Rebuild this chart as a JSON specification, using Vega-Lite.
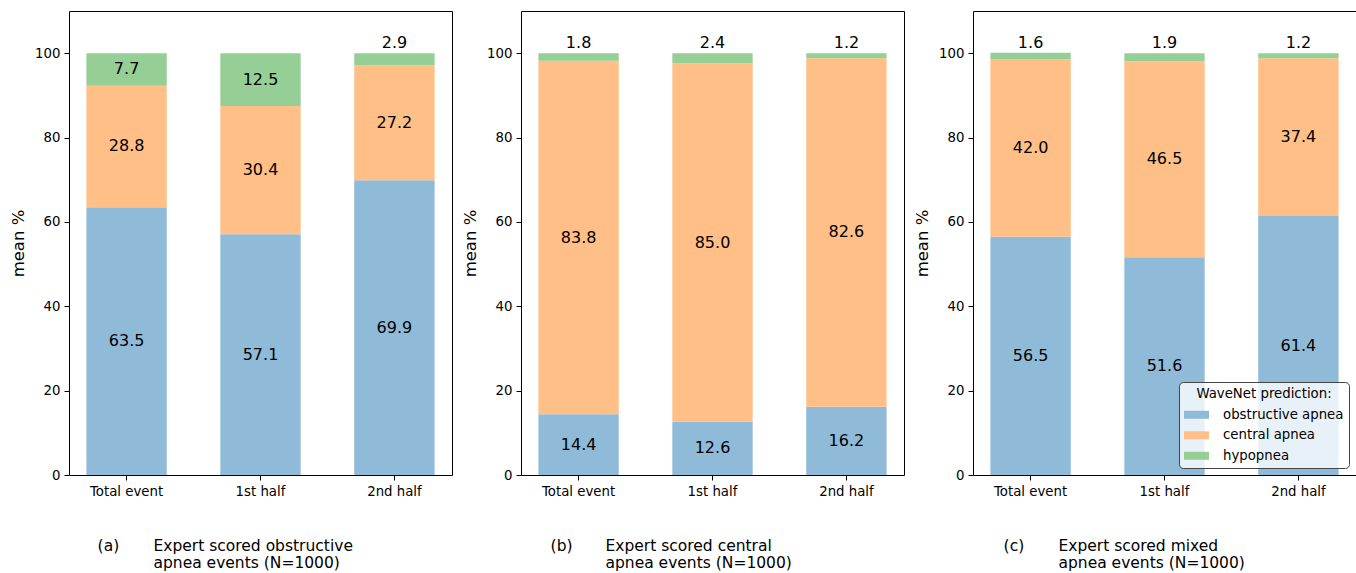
{
  "$schema": "https://vega.github.io/schema/vega-lite/v6.json",
  "background": "white",
  "padding": {"left": 10, "top": 10, "right": 0, "bottom": 0},
  "config": {
    "font": "DejaVu Sans",
    "view": {"stroke": "#000000", "strokeWidth": 1},
    "axis": {
      "domain": false,
      "grid": false,
      "ticks": true,
      "tickColor": "#000000",
      "tickSize": 5,
      "tickWidth": 1,
      "labelColor": "#000000",
      "labelFontSize": 13.3,
      "labelFont": "DejaVu Sans",
      "titleColor": "#000000",
      "titleFont": "DejaVu Sans",
      "titleFontWeight": "normal"
    },
    "title": {"font": "DejaVu Sans", "fontSize": 15.5, "fontWeight": "normal", "color": "#000000"}
  },
  "datasets": {
    "shares": [
      {"panel": "a", "half": "Total event", "prediction": "obstructive apnea", "pct": 63.5},
      {"panel": "a", "half": "Total event", "prediction": "central apnea", "pct": 28.8},
      {"panel": "a", "half": "Total event", "prediction": "hypopnea", "pct": 7.7},
      {"panel": "a", "half": "1st half", "prediction": "obstructive apnea", "pct": 57.1},
      {"panel": "a", "half": "1st half", "prediction": "central apnea", "pct": 30.4},
      {"panel": "a", "half": "1st half", "prediction": "hypopnea", "pct": 12.5},
      {"panel": "a", "half": "2nd half", "prediction": "obstructive apnea", "pct": 69.9},
      {"panel": "a", "half": "2nd half", "prediction": "central apnea", "pct": 27.2},
      {"panel": "a", "half": "2nd half", "prediction": "hypopnea", "pct": 2.9},
      {"panel": "b", "half": "Total event", "prediction": "obstructive apnea", "pct": 14.4},
      {"panel": "b", "half": "Total event", "prediction": "central apnea", "pct": 83.8},
      {"panel": "b", "half": "Total event", "prediction": "hypopnea", "pct": 1.8},
      {"panel": "b", "half": "1st half", "prediction": "obstructive apnea", "pct": 12.6},
      {"panel": "b", "half": "1st half", "prediction": "central apnea", "pct": 85.0},
      {"panel": "b", "half": "1st half", "prediction": "hypopnea", "pct": 2.4},
      {"panel": "b", "half": "2nd half", "prediction": "obstructive apnea", "pct": 16.2},
      {"panel": "b", "half": "2nd half", "prediction": "central apnea", "pct": 82.6},
      {"panel": "b", "half": "2nd half", "prediction": "hypopnea", "pct": 1.2},
      {"panel": "c", "half": "Total event", "prediction": "obstructive apnea", "pct": 56.5},
      {"panel": "c", "half": "Total event", "prediction": "central apnea", "pct": 42.0},
      {"panel": "c", "half": "Total event", "prediction": "hypopnea", "pct": 1.6},
      {"panel": "c", "half": "1st half", "prediction": "obstructive apnea", "pct": 51.6},
      {"panel": "c", "half": "1st half", "prediction": "central apnea", "pct": 46.5},
      {"panel": "c", "half": "1st half", "prediction": "hypopnea", "pct": 1.9},
      {"panel": "c", "half": "2nd half", "prediction": "obstructive apnea", "pct": 61.4},
      {"panel": "c", "half": "2nd half", "prediction": "central apnea", "pct": 37.4},
      {"panel": "c", "half": "2nd half", "prediction": "hypopnea", "pct": 1.2}
    ]
  },
  "bounds": "flush",
  "spacing": 69,
  "resolve": {"legend": {"color": "independent"}},
  "hconcat": [
    {
      "width": 383,
      "height": 464,
      "data": {"name": "shares"},
      "title": {"text": "(a)", "orient": "bottom", "anchor": "start", "dx": 87, "offset": -32},
      "transform": [
        {"filter": "datum.panel === 'a'"},
        {"calculate": "indexof(['obstructive apnea','central apnea','hypopnea'], datum.prediction)", "as": "rank"},
        {"stack": "pct", "groupby": ["half"], "sort": [{"field": "rank"}], "as": ["y0", "y1"]},
        {"calculate": "(datum.y0 + datum.y1) / 2", "as": "mid"}
      ],
      "encoding": {
        "x": {
          "field": "half", "type": "nominal",
          "sort": ["Total event", "1st half", "2nd half"],
          "scale": {"paddingInner": 0.4, "paddingOuter": 0.13},
          "axis": {
            "labelAngle": 0, "labelPadding": 4,
            "title": ["Expert scored obstructive", "apnea events (N=1000)"],
            "titleX": 84, "titleY": 75.5, "titleAlign": "left", "titleAnchor": "start",
            "titleBaseline": "alphabetic", "titleFontSize": 15.5, "titleLineHeight": 17
          }
        }
      },
      "layer": [
        {
          "mark": {"type": "bar"},
          "encoding": {
            "y": {"field": "y0", "type": "quantitative", "title": "mean %",
                  "scale": {"domain": [0, 110], "nice": false},
                  "axis": {"values": [0, 20, 40, 60, 80, 100], "titleFontSize": 16.5, "titlePadding": 8, "labelPadding": 4}},
            "y2": {"field": "y1"},
            "color": {"field": "prediction", "type": "nominal",
                      "scale": {"domain": ["obstructive apnea", "central apnea", "hypopnea"], "range": ["#8fbbd9", "#ffbf86", "#95cf95"]},
                      "legend": null}
          }
        },
        {
          "transform": [{"filter": "datum.pct >= 5"}],
          "mark": {"type": "text", "fontSize": 16, "baseline": "middle", "color": "#000000"},
          "encoding": {
            "y": {"field": "mid", "type": "quantitative", "title": "mean %"},
            "text": {"field": "pct", "type": "quantitative", "format": ".1f"}
          }
        },
        {
          "transform": [{"filter": "datum.pct < 5"}],
          "mark": {"type": "text", "fontSize": 16, "baseline": "alphabetic", "dy": -4.7, "color": "#000000"},
          "encoding": {
            "y": {"field": "y1", "type": "quantitative", "title": "mean %"},
            "text": {"field": "pct", "type": "quantitative", "format": ".1f"}
          }
        }
      ]
    },
    {
      "width": 383,
      "height": 464,
      "data": {"name": "shares"},
      "title": {"text": "(b)", "orient": "bottom", "anchor": "start", "dx": 88, "offset": -32},
      "transform": [
        {"filter": "datum.panel === 'b'"},
        {"calculate": "indexof(['obstructive apnea','central apnea','hypopnea'], datum.prediction)", "as": "rank"},
        {"stack": "pct", "groupby": ["half"], "sort": [{"field": "rank"}], "as": ["y0", "y1"]},
        {"calculate": "(datum.y0 + datum.y1) / 2", "as": "mid"}
      ],
      "encoding": {
        "x": {
          "field": "half", "type": "nominal",
          "sort": ["Total event", "1st half", "2nd half"],
          "scale": {"paddingInner": 0.4, "paddingOuter": 0.13},
          "axis": {
            "labelAngle": 0, "labelPadding": 4,
            "title": ["Expert scored central", "apnea events (N=1000)"],
            "titleX": 84, "titleY": 75.5, "titleAlign": "left", "titleAnchor": "start",
            "titleBaseline": "alphabetic", "titleFontSize": 15.5, "titleLineHeight": 17
          }
        }
      },
      "layer": [
        {
          "mark": {"type": "bar"},
          "encoding": {
            "y": {"field": "y0", "type": "quantitative", "title": "mean %",
                  "scale": {"domain": [0, 110], "nice": false},
                  "axis": {"values": [0, 20, 40, 60, 80, 100], "titleFontSize": 16.5, "titlePadding": 8, "labelPadding": 4}},
            "y2": {"field": "y1"},
            "color": {"field": "prediction", "type": "nominal",
                      "scale": {"domain": ["obstructive apnea", "central apnea", "hypopnea"], "range": ["#8fbbd9", "#ffbf86", "#95cf95"]},
                      "legend": null}
          }
        },
        {
          "transform": [{"filter": "datum.pct >= 5"}],
          "mark": {"type": "text", "fontSize": 16, "baseline": "middle", "color": "#000000"},
          "encoding": {
            "y": {"field": "mid", "type": "quantitative", "title": "mean %"},
            "text": {"field": "pct", "type": "quantitative", "format": ".1f"}
          }
        },
        {
          "transform": [{"filter": "datum.pct < 5"}],
          "mark": {"type": "text", "fontSize": 16, "baseline": "alphabetic", "dy": -4.7, "color": "#000000"},
          "encoding": {
            "y": {"field": "y1", "type": "quantitative", "title": "mean %"},
            "text": {"field": "pct", "type": "quantitative", "format": ".1f"}
          }
        }
      ]
    },
    {
      "width": 383,
      "height": 464,
      "data": {"name": "shares"},
      "title": {"text": "(c)", "orient": "bottom", "anchor": "start", "dx": 89, "offset": -32},
      "transform": [
        {"filter": "datum.panel === 'c'"},
        {"calculate": "indexof(['obstructive apnea','central apnea','hypopnea'], datum.prediction)", "as": "rank"},
        {"stack": "pct", "groupby": ["half"], "sort": [{"field": "rank"}], "as": ["y0", "y1"]},
        {"calculate": "(datum.y0 + datum.y1) / 2", "as": "mid"}
      ],
      "encoding": {
        "x": {
          "field": "half", "type": "nominal",
          "sort": ["Total event", "1st half", "2nd half"],
          "scale": {"paddingInner": 0.4, "paddingOuter": 0.13},
          "axis": {
            "labelAngle": 0, "labelPadding": 4,
            "title": ["Expert scored mixed", "apnea events (N=1000)"],
            "titleX": 85, "titleY": 75.5, "titleAlign": "left", "titleAnchor": "start",
            "titleBaseline": "alphabetic", "titleFontSize": 15.5, "titleLineHeight": 17
          }
        }
      },
      "layer": [
        {
          "mark": {"type": "bar"},
          "encoding": {
            "y": {"field": "y0", "type": "quantitative", "title": "mean %",
                  "scale": {"domain": [0, 110], "nice": false},
                  "axis": {"values": [0, 20, 40, 60, 80, 100], "titleFontSize": 16.5, "titlePadding": 8, "labelPadding": 4}},
            "y2": {"field": "y1"},
            "color": {"field": "prediction", "type": "nominal",
                      "scale": {"domain": ["obstructive apnea", "central apnea", "hypopnea"], "range": ["#8fbbd9", "#ffbf86", "#95cf95"]},
                      "legend": {
                        "title": "WaveNet prediction:",
                        "orient": "bottom-right", "offset": 7, "padding": 5,
                        "fillColor": "rgba(255,255,255,0.8)", "strokeColor": "#444444", "cornerRadius": 4,
                        "titleFontSize": 13.3, "titleFontWeight": "normal", "titleColor": "#000000", "titleAnchor": "middle", "titlePadding": 2,
                        "labelFontSize": 13.3, "labelColor": "#000000", "labelOffset": 14,
                        "symbolType": "M-1,-0.32L1,-0.32L1,0.32L-1,0.32Z", "symbolSize": 625,
                        "symbolStrokeWidth": 0, "symbolOpacity": 1, "rowPadding": 1.5
                      }}
          }
        },
        {
          "transform": [{"filter": "datum.pct >= 5"}],
          "mark": {"type": "text", "fontSize": 16, "baseline": "middle", "color": "#000000"},
          "encoding": {
            "y": {"field": "mid", "type": "quantitative", "title": "mean %"},
            "text": {"field": "pct", "type": "quantitative", "format": ".1f"}
          }
        },
        {
          "transform": [{"filter": "datum.pct < 5"}],
          "mark": {"type": "text", "fontSize": 16, "baseline": "alphabetic", "dy": -4.7, "color": "#000000"},
          "encoding": {
            "y": {"field": "y1", "type": "quantitative", "title": "mean %"},
            "text": {"field": "pct", "type": "quantitative", "format": ".1f"}
          }
        }
      ]
    }
  ]
}
